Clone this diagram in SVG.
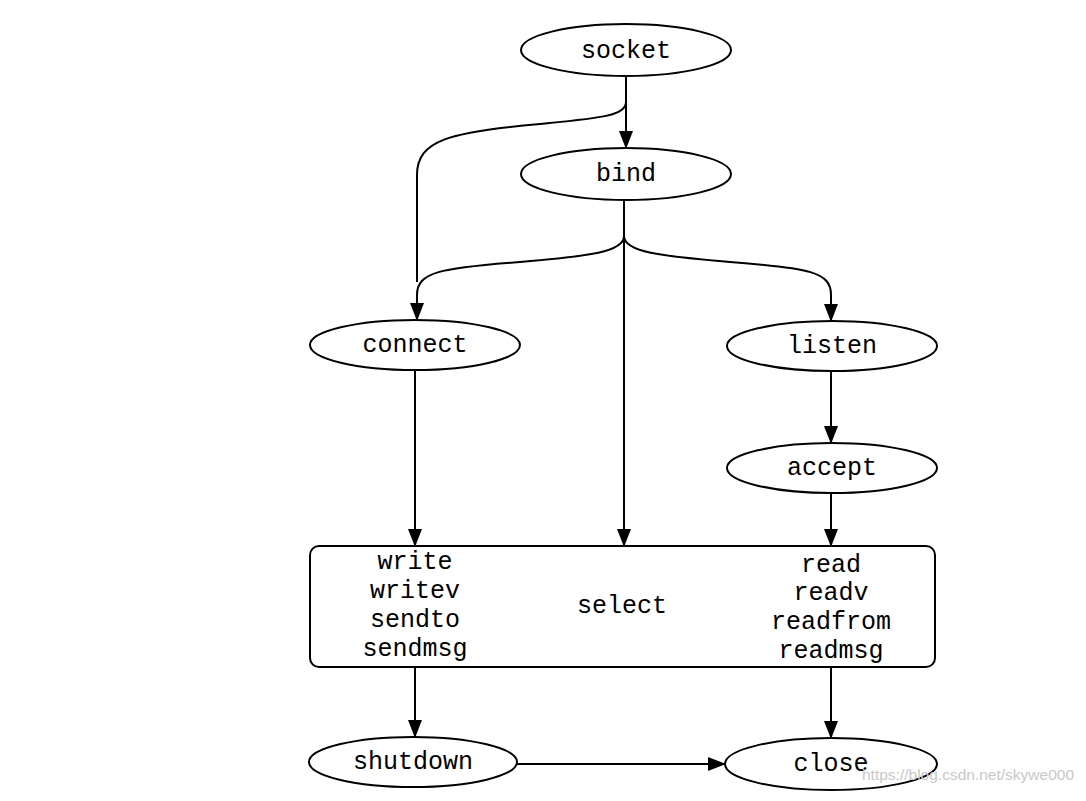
<svg xmlns="http://www.w3.org/2000/svg" width="1086" height="801" viewBox="0 0 1086 801">
<style>
.n{fill:#fff;stroke:#000;stroke-width:2}
.t{font-family:"Liberation Mono","DejaVu Sans Mono",monospace;font-size:25px;fill:#000;text-anchor:middle}
.c{fill:none;stroke:#000;stroke-width:2}
</style>
<defs>
<marker id="a" markerWidth="18" markerHeight="14" refX="17" refY="7" orient="auto" markerUnits="userSpaceOnUse">
<path d="M0,0 L18,7 L0,14 Z" fill="#000"/>
</marker>
</defs>
<rect width="1086" height="801" fill="#fff"/>
<g id="connectors">
<path class="c" d="M626,76 L626,148" marker-end="url(#a)"/>
<path class="c" d="M626,78 L626,102 C626,116 600,118 540,124 C450,132 417,140 417,175 L417,282"/>
<path class="c" d="M624,200 L624,546" marker-end="url(#a)"/>
<path class="c" d="M624,236 C624,252 590,256 520,262 C440,268 417,272 417,295 L417,320" marker-end="url(#a)"/>
<path class="c" d="M624,236 C624,252 660,256 730,262 C810,268 831,272 831,295 L831,321" marker-end="url(#a)"/>
<path class="c" d="M415,370 L415,546" marker-end="url(#a)"/>
<path class="c" d="M831,371 L831,443" marker-end="url(#a)"/>
<path class="c" d="M831,493 L831,546" marker-end="url(#a)"/>
<path class="c" d="M415,667 L415,737" marker-end="url(#a)"/>
<path class="c" d="M831,667 L831,738" marker-end="url(#a)"/>
<path class="c" d="M517,764 L725,764" marker-end="url(#a)"/>
</g>
<g id="socket"><ellipse class="n" cx="626" cy="50" rx="105" ry="26"/><text class="t" x="626" y="58">socket</text></g>
<g id="bind"><ellipse class="n" cx="626" cy="174" rx="105" ry="26"/><text class="t" x="626" y="181">bind</text></g>
<g id="connect"><ellipse class="n" cx="415" cy="345" rx="105" ry="25"/><text class="t" x="415" y="352">connect</text></g>
<g id="listen"><ellipse class="n" cx="832" cy="346" rx="105" ry="25"/><text class="t" x="832" y="353">listen</text></g>
<g id="accept"><ellipse class="n" cx="832" cy="468" rx="105" ry="25"/><text class="t" x="832" y="475">accept</text></g>
<g id="io">
<rect class="n" x="310" y="546" width="625" height="121" rx="9"/>
<text class="t" x="415" y="569">write</text>
<text class="t" x="415" y="598">writev</text>
<text class="t" x="415" y="627">sendto</text>
<text class="t" x="415" y="656">sendmsg</text>
<text class="t" x="622" y="613">select</text>
<text class="t" x="831" y="572">read</text>
<text class="t" x="831" y="600">readv</text>
<text class="t" x="831" y="629">readfrom</text>
<text class="t" x="831" y="658">readmsg</text>
</g>
<g id="shutdown"><ellipse class="n" cx="413" cy="762" rx="104" ry="25"/><text class="t" x="413" y="769">shutdown</text></g>
<g id="close"><ellipse class="n" cx="831" cy="764" rx="106" ry="26"/><text class="t" x="831" y="771">close</text></g>
<text x="862" y="780" font-family="'Liberation Sans',Arial,sans-serif" font-size="15" fill="#c8c8c8" textLength="212" lengthAdjust="spacingAndGlyphs">https://blog.csdn.net/skywe000</text>
</svg>
